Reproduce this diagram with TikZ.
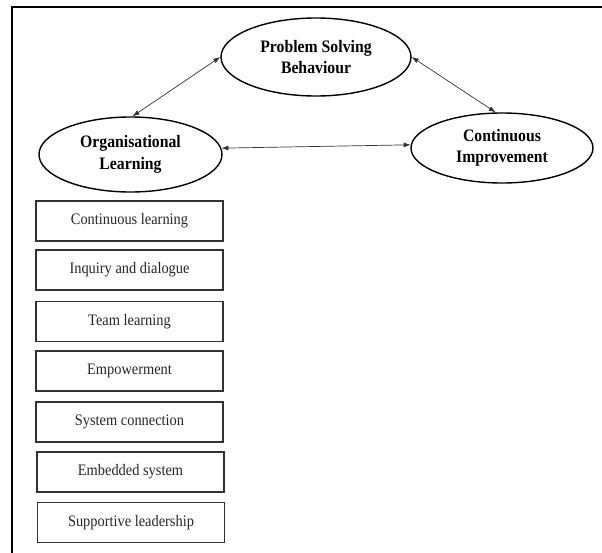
\documentclass[tikz,border=0pt]{standalone}
\usepackage{fontspec}
\setmainfont{Liberation Serif}[FakeStretch=0.9]
\usetikzlibrary{shapes.geometric,arrows.meta}
\begin{document}
\begin{tikzpicture}[x=1pt,y=-1pt,
  oval/.style={ellipse,draw=black,line width=1.4pt,inner sep=0pt,align=center,
    font=\bfseries\fontsize{17.5}{21.5}\selectfont},
  itembox/.style={rectangle,draw=black!80,line width=1.2pt,inner sep=0pt,
    minimum width=187pt,minimum height=40pt,font=\fontsize{16}{19}\selectfont,text=black!85},
  link/.style={draw=black!80,line width=0.7pt,{Latex[length=7pt,width=5pt]}-{Latex[length=7pt,width=5pt]}},
  frameline/.style={line width=1.8pt,line cap=rect}]
\useasboundingbox (0,0) rectangle (602,552);
\coordinate (fa) at (12,552);
\coordinate (fb) at (12,7);
\coordinate (fc) at (602,7);
\draw[frameline] (fa) -- (fb) -- (fc);

\node[oval,minimum width=190pt,minimum height=78pt] (psb) at (316,57) {Problem Solving\\Behaviour};
\node[oval,minimum width=183pt,minimum height=75pt] (org) at (130.5,154.5) {Organisational\\Learning};
\node[oval,minimum width=182pt,minimum height=70pt] (ci) at (502,148) {Continuous\\Improvement};

\draw[link] (psb.west) -- (org.87);
\draw[link] (psb.east) -- (ci.100);
\draw[link] (org.4) -- (ci.178);

\node[itembox] (b1) at (129.5,221) {Continuous learning};
\node[itembox] (b2) at (129.5,270) {Inquiry and dialogue};
\node[itembox] (b3) at (129.5,321.5) {Team learning};
\node[itembox] (b4) at (129.5,371) {Empowerment};
\node[itembox] (b5) at (129.5,422) {System connection};
\node[itembox] (b6) at (130.5,472) {Embedded system};
\node[itembox] (b7) at (131,522.5) {Supportive leadership};
\end{tikzpicture}
\end{document}
